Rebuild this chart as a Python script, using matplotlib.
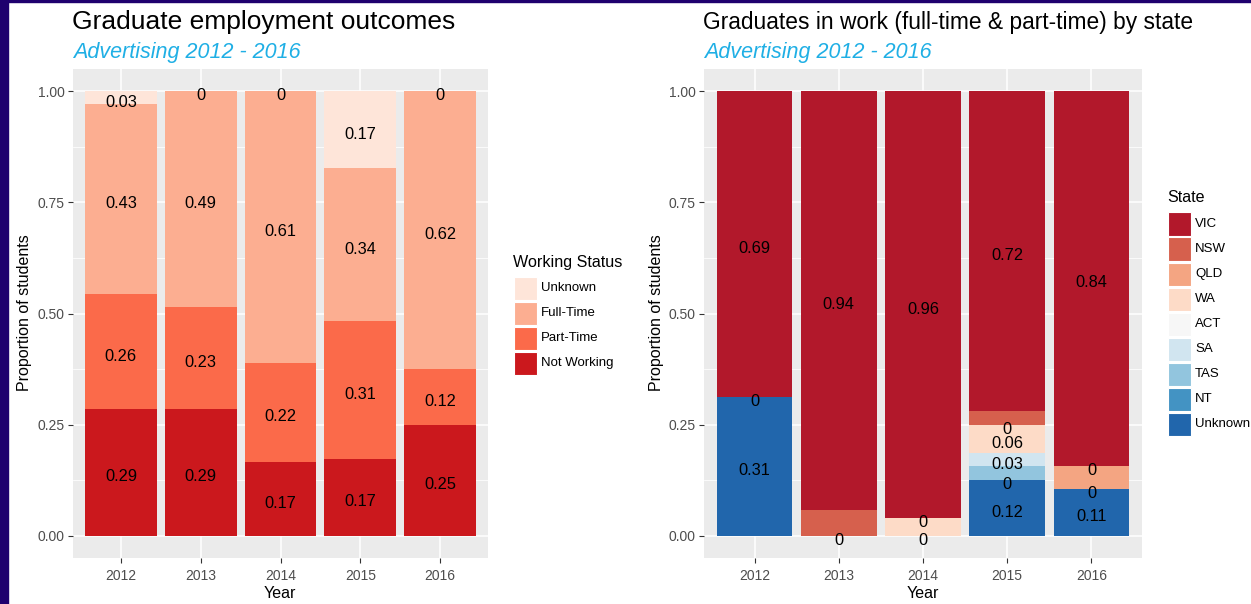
import matplotlib.pyplot as plt
import matplotlib.transforms as mtransforms
from matplotlib.patches import Rectangle

# ---- data ----
years = [2012, 2013, 2014, 2015, 2016]

# left chart, stacked bottom -> top
status = ['Not Working', 'Part-Time', 'Full-Time', 'Unknown']
not_working = [0.2857, 0.2857, 0.1667, 0.1724, 0.25]
part_time = [0.2571, 0.2286, 0.2222, 0.3103, 0.125]
full_time = [0.4286, 0.4857, 0.6111, 0.3448, 0.625]
unknown_status = [0.0286, 0.0, 0.0, 0.1724, 0.0]
status_colors = {'Unknown': '#FEE5D9', 'Full-Time': '#FCAE91',
                 'Part-Time': '#FB6A4A', 'Not Working': '#CB181D'}

# right chart, None = no row for that state/year
states = ['VIC', 'NSW', 'QLD', 'WA', 'ACT', 'SA', 'TAS', 'NT', 'Unknown']
vic = [0.6875, 0.941, 0.96, 0.719, 0.842]
nsw = [0.0, 0.059, 0.0, 0.031, 0.0]
qld = [None, None, None, 0.0, 0.0526]
wa = [None, None, 0.04, 0.0625, 0.0]
act = [None, None, None, None, None]
sa = [None, None, None, 0.031, None]
tas = [None, None, None, 0.031, None]
nt = [None, None, None, 0.0, None]
unknown_state = [0.3125, 0.0, 0.0, 0.125, 0.1053]
state_colors = ['#B2182B', '#D6604D', '#F4A582', '#FDDBC7', '#F7F7F7',
                '#D1E5F0', '#92C5DE', '#4393C3', '#2166AC']
# labels dropped by ggplot's check_overlap
hidden_labels = [(2013, 'NSW'), (2014, 'WA'), (2015, 'TAS'), (2015, 'NSW'), (2016, 'QLD')]

W, H = 1251, 604
plt.rcParams['font.family'] = ['Liberation Sans', 'DejaVu Sans']
fig = plt.figure(figsize=(W / 100, H / 100), dpi=100)

def fx(px):
    return px / W

def fy(py):
    return 1 - py / H

border = '#1F006E'
fig.patches.append(Rectangle((0, 0), fx(8), 1, transform=fig.transFigure, color=border))
fig.patches.append(Rectangle((0, fy(2)), 1, 2 / H, transform=fig.transFigure, color=border))

def lab(v):
    return f"{round(v, 2):g}"

def style(ax):
    ax.set_facecolor('#EBEBEB')
    ax.set_xlim(0.4, 5.6)
    ax.set_ylim(-0.05, 1.05)
    ax.set_yticks([0, 0.25, 0.5, 0.75, 1.0], ['0.00', '0.25', '0.50', '0.75', '1.00'])
    ax.set_yticks([0.125, 0.375, 0.625, 0.875], minor=True)
    ax.set_xticks(range(1, 6), [str(y) for y in years])
    ax.grid(which='major', color='white', lw=1.1)
    ax.grid(which='minor', axis='y', color='white', lw=0.55)
    ax.set_axisbelow(True)
    for s in ax.spines.values():
        s.set_visible(False)
    ax.tick_params(which='major', length=3.5, width=0.8, color='#333333',
                   labelcolor='#4D4D4D', labelsize=10, pad=2.5)
    ax.tick_params(axis='x', pad=4.5)
    ax.tick_params(which='minor', length=0)

def legend(x, y, title, names, colors):
    fig.text(fx(x), fy(y), title, fontsize=11.6, va='center', ha='left')
    for i, (n, c) in enumerate(zip(names, colors)):
        cy = y + 26 + 25 * i
        fig.patches.append(Rectangle((fx(x + 1), fy(cy + 11.5)), 23 / W, 23 / H,
                                     transform=fig.transFigure, facecolor=c,
                                     edgecolor='white', lw=0.8))
        fig.text(fx(x + 28), fy(cy), n, fontsize=9.5, va='center', ha='left')

# ---- left chart ----
ax1 = fig.add_axes([fx(73), fy(558), fx(488) - fx(73), (558 - 69) / H])
style(ax1)
tr1 = mtransforms.offset_copy(ax1.transData, fig=fig, y=-3, units='dots')
x = list(range(1, 6))
bottom = [0.0] * 5
for name, vals in zip(status, [not_working, part_time, full_time, unknown_status]):
    ax1.bar(x, vals, bottom=bottom, width=0.9, color=status_colors[name], edgecolor='none')
    for i, v in enumerate(vals):
        ax1.text(x[i], bottom[i] + v / 2, lab(v), ha='center', va='center_baseline',
                 fontsize=11.8, color='black', transform=tr1)
    bottom = [b + v for b, v in zip(bottom, vals)]

fig.text(fx(72), fy(22), 'Graduate employment outcomes', fontsize=19, va='center', ha='left')
fig.text(fx(73), fy(52.5), 'Advertising 2012 - 2016', fontsize=15.5, style='italic',
         color='#1FAFE5', va='center', ha='left')
fig.text(fx(280), fy(593), 'Year', fontsize=11.5, ha='center', va='center')
fig.text(fx(25), fy(313), 'Proportion of students', fontsize=11.5, ha='center', va='center', rotation=90)
legend(513, 262, 'Working Status', status[::-1], [status_colors[n] for n in status[::-1]])

# ---- right chart ----
ax2 = fig.add_axes([fx(704), fy(558), fx(1142) - fx(704), (558 - 69) / H])
style(ax2)
tr2 = mtransforms.offset_copy(ax2.transData, fig=fig, y=-3, units='dots')
state_vals = [vic, nsw, qld, wa, act, sa, tas, nt, unknown_state]
bottom = [0.0] * 5
for name, vals, c in list(zip(states, state_vals, state_colors))[::-1]:
    for i, v in enumerate(vals):
        if v is None:
            continue
        ax2.bar(x[i], v, bottom=bottom[i], width=0.9, color=c, edgecolor='none')
        if (years[i], name) not in hidden_labels:
            ax2.text(x[i], bottom[i] + v / 2, lab(v), ha='center', va='center_baseline',
                     fontsize=11.8, color='black', transform=tr2)
        bottom[i] += v

fig.text(fx(703), fy(22), 'Graduates in work (full-time & part-time) by state', fontsize=16.4,
         va='center', ha='left')
fig.text(fx(704), fy(52.5), 'Advertising 2012 - 2016', fontsize=15.5, style='italic',
         color='#1FAFE5', va='center', ha='left')
fig.text(fx(923), fy(593), 'Year', fontsize=11.5, ha='center', va='center')
fig.text(fx(656), fy(313), 'Proportion of students', fontsize=11.5, ha='center', va='center', rotation=90)
legend(1167, 198, 'State', states, state_colors)

fig.savefig('out.png', dpi=100)
